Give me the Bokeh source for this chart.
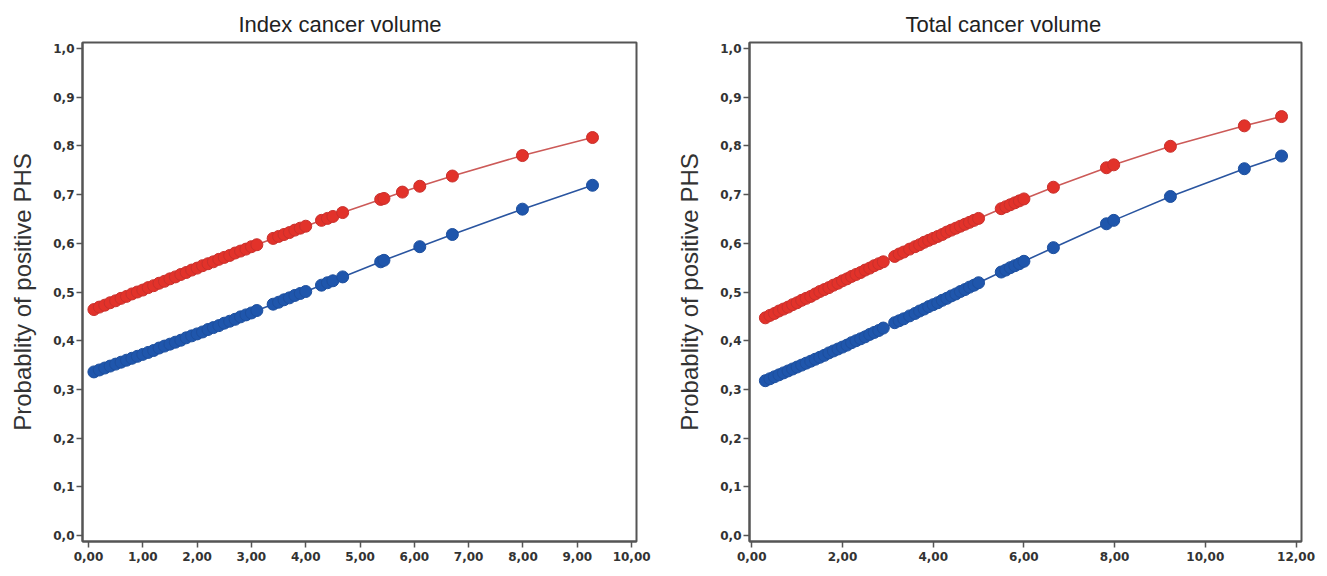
from bokeh.plotting import figure
from bokeh.layouts import row
from bokeh.models import FixedTicker, Range1d
from bokeh.embed import file_html
from bokeh.resources import INLINE

# ---------------- data: Index cancer volume (left) ----------------
idx_red_x = [0.1, 0.2, 0.3, 0.4, 0.5, 0.6, 0.7, 0.8, 0.9, 1.0, 1.1, 1.2, 1.3, 1.4, 1.5, 1.6,
             1.7, 1.8, 1.9, 2.0, 2.1, 2.2, 2.3, 2.4, 2.5, 2.6, 2.7, 2.8, 2.9, 3.0, 3.1,
             3.4, 3.5, 3.6, 3.7, 3.8, 3.9, 4.0, 4.29, 4.4, 4.5, 4.68, 5.38, 5.44, 5.78,
             6.10, 6.70, 7.99, 9.28]
idx_red_y = [0.464, 0.469, 0.473, 0.478, 0.482, 0.487, 0.491, 0.496, 0.500, 0.504, 0.509,
             0.513, 0.518, 0.522, 0.527, 0.531, 0.536, 0.540, 0.545, 0.549, 0.554, 0.558,
             0.562, 0.567, 0.571, 0.575, 0.580, 0.584, 0.588, 0.593, 0.597,
             0.610, 0.614, 0.618, 0.622, 0.627, 0.631, 0.635, 0.647, 0.651, 0.655, 0.663,
             0.690, 0.692, 0.705, 0.717, 0.738, 0.780, 0.817]
idx_blue_x = [0.1, 0.2, 0.3, 0.4, 0.5, 0.6, 0.7, 0.8, 0.9, 1.0, 1.1, 1.2, 1.3, 1.4, 1.5, 1.6,
              1.7, 1.8, 1.9, 2.0, 2.1, 2.2, 2.3, 2.4, 2.5, 2.6, 2.7, 2.8, 2.9, 3.0, 3.1,
              3.4, 3.5, 3.6, 3.7, 3.8, 3.9, 4.0, 4.29, 4.4, 4.5, 4.68, 5.38, 5.44,
              6.10, 6.70, 7.99, 9.28]
idx_blue_y = [0.336, 0.340, 0.344, 0.348, 0.352, 0.356, 0.360, 0.364, 0.368, 0.372, 0.376,
              0.380, 0.385, 0.389, 0.393, 0.397, 0.401, 0.406, 0.410, 0.414, 0.418, 0.423,
              0.427, 0.431, 0.436, 0.440, 0.444, 0.449, 0.453, 0.457, 0.462,
              0.475, 0.479, 0.484, 0.488, 0.493, 0.497, 0.501, 0.514, 0.519, 0.523, 0.531,
              0.562, 0.565, 0.593, 0.618, 0.670, 0.719]

# ---------------- data: Total cancer volume (right) ----------------
tot_x = [0.3, 0.4, 0.5, 0.6, 0.7, 0.8, 0.9, 1.0, 1.1, 1.2, 1.3, 1.4, 1.5, 1.6, 1.7, 1.8,
         1.9, 2.0, 2.1, 2.2, 2.3, 2.4, 2.5, 2.6, 2.7, 2.8, 2.9, 3.15, 3.25, 3.35, 3.48,
         3.6, 3.7, 3.8, 3.9, 4.0, 4.1, 4.2, 4.3, 4.4, 4.5, 4.6, 4.7, 4.8, 4.9, 5.0,
         5.5, 5.6, 5.7, 5.8, 5.9, 6.0, 6.65, 7.82, 7.98, 9.23, 10.86, 11.68]
tot_red_y = [0.447, 0.452, 0.456, 0.461, 0.465, 0.469, 0.474, 0.478, 0.483, 0.487, 0.491,
             0.496, 0.501, 0.505, 0.509, 0.514, 0.518, 0.523, 0.527, 0.532, 0.536, 0.540,
             0.545, 0.549, 0.554, 0.558, 0.562, 0.573, 0.578, 0.582, 0.588,
             0.593, 0.597, 0.602, 0.606, 0.610, 0.614, 0.618, 0.623, 0.627, 0.631, 0.635,
             0.639, 0.643, 0.647, 0.651, 0.671, 0.675, 0.679, 0.683, 0.687, 0.691,
             0.715, 0.755, 0.761, 0.799, 0.841, 0.860]
tot_blue_y = [0.318, 0.322, 0.326, 0.330, 0.334, 0.338, 0.342, 0.346, 0.350, 0.354, 0.358,
              0.362, 0.366, 0.370, 0.375, 0.379, 0.383, 0.387, 0.391, 0.396, 0.400, 0.404,
              0.408, 0.413, 0.417, 0.421, 0.426, 0.437, 0.441, 0.445, 0.451,
              0.456, 0.461, 0.465, 0.470, 0.474, 0.478, 0.483, 0.487, 0.492, 0.496, 0.501,
              0.505, 0.510, 0.514, 0.519, 0.541, 0.545, 0.550, 0.554, 0.558, 0.563,
              0.591, 0.640, 0.647, 0.696, 0.753, 0.779]

# ---------------- tick labels ----------------
y_ticks = [0.0, 0.1, 0.2, 0.3, 0.4, 0.5, 0.6, 0.7, 0.8, 0.9, 1.0]
y_labels = ["0,0", "0,1", "0,2", "0,3", "0,4", "0,5", "0,6", "0,7", "0,8", "0,9", "1,0"]
idx_x_ticks = [0, 1, 2, 3, 4, 5, 6, 7, 8, 9, 10]
idx_x_labels = ["0,00", "1,00", "2,00", "3,00", "4,00", "5,00", "6,00", "7,00", "8,00", "9,00", "10,00"]
tot_x_ticks = [0, 2, 4, 6, 8, 10, 12]
tot_x_labels = ["0,00", "2,00", "4,00", "6,00", "8,00", "10,00", "12,00"]

titles = ["Index cancer volume", "Total cancer volume"]
y_title = "Probablity of positive PHS"

RED_FILL = "#e2322a"
RED_EDGE = "#c9302c"
RED_LINE = "#cc5a58"
BLUE_FILL = "#1f56ac"
BLUE_EDGE = "#1d4f9e"
BLUE_LINE = "#2a55a0"
FRAME = "#555555"


def make_panel(title, xr, xt, xl, rx, ry, bx, by, width, border_left, border_right):
    p = figure(width=width, height=563, output_backend="svg", toolbar_location=None,
               x_range=Range1d(*xr), y_range=Range1d(-0.012, 1.012),
               min_border_left=border_left, min_border_right=border_right,
               min_border_top=42, min_border_bottom=19)
    p.title.text = title
    p.title.align = "left"
    p.title.offset = 156
    p.title.vertical_align = "middle"
    p.title.text_font = "Liberation Sans"
    p.title.text_font_size = "22px"
    p.title.text_font_style = "normal"
    p.title.text_color = "#222222"
    p.grid.visible = False
    p.outline_line_color = FRAME
    p.outline_line_width = 2
    p.background_fill_color = "white"
    p.border_fill_color = "white"

    for ax in (p.xaxis[0], p.yaxis[0]):
        ax.axis_line_color = FRAME
        ax.axis_line_width = 2
        ax.major_tick_line_color = FRAME
        ax.major_tick_line_width = 1.5
        ax.major_tick_out = 6
        ax.major_tick_in = 0
        ax.minor_tick_line_color = None
        ax.major_label_text_font = "DejaVu Sans"
        ax.major_label_text_font_size = "12px"
        ax.major_label_text_font_style = "bold"
        ax.major_label_text_color = "#333333"

    p.yaxis[0].ticker = FixedTicker(ticks=y_ticks)
    p.yaxis[0].major_label_overrides = dict(zip(y_ticks, y_labels))
    p.yaxis[0].major_label_standoff = 2
    p.yaxis[0].axis_label = y_title
    p.yaxis[0].axis_label_text_font = "Liberation Sans"
    p.yaxis[0].axis_label_text_font_size = "24px"
    p.yaxis[0].axis_label_text_font_style = "normal"
    p.yaxis[0].axis_label_text_color = "#333333"
    p.yaxis[0].axis_label_standoff = 14

    p.xaxis[0].ticker = FixedTicker(ticks=xt)
    p.xaxis[0].major_label_overrides = dict(zip(xt, xl))
    p.xaxis[0].major_label_standoff = 4

    p.line(rx, ry, line_color=RED_LINE, line_width=1.6)
    p.scatter(rx, ry, marker="circle", size=12, fill_color=RED_FILL, line_color=RED_EDGE,
              line_width=1)
    p.line(bx, by, line_color=BLUE_LINE, line_width=1.6)
    p.scatter(bx, by, marker="circle", size=12, fill_color=BLUE_FILL, line_color=BLUE_EDGE,
              line_width=1)
    return p


left = make_panel(titles[0], (-0.11, 10.09), idx_x_ticks, idx_x_labels,
                  idx_red_x, idx_red_y, idx_blue_x, idx_blue_y,
                  width=673, border_left=82, border_right=37)
right = make_panel(titles[1], (-0.05, 12.12), tot_x_ticks, tot_x_labels,
                   tot_x, tot_red_y, tot_x, tot_blue_y,
                   width=644, border_left=76, border_right=16)

layout = row(left, right)

open("out.html", "w").write(file_html(layout, INLINE))
